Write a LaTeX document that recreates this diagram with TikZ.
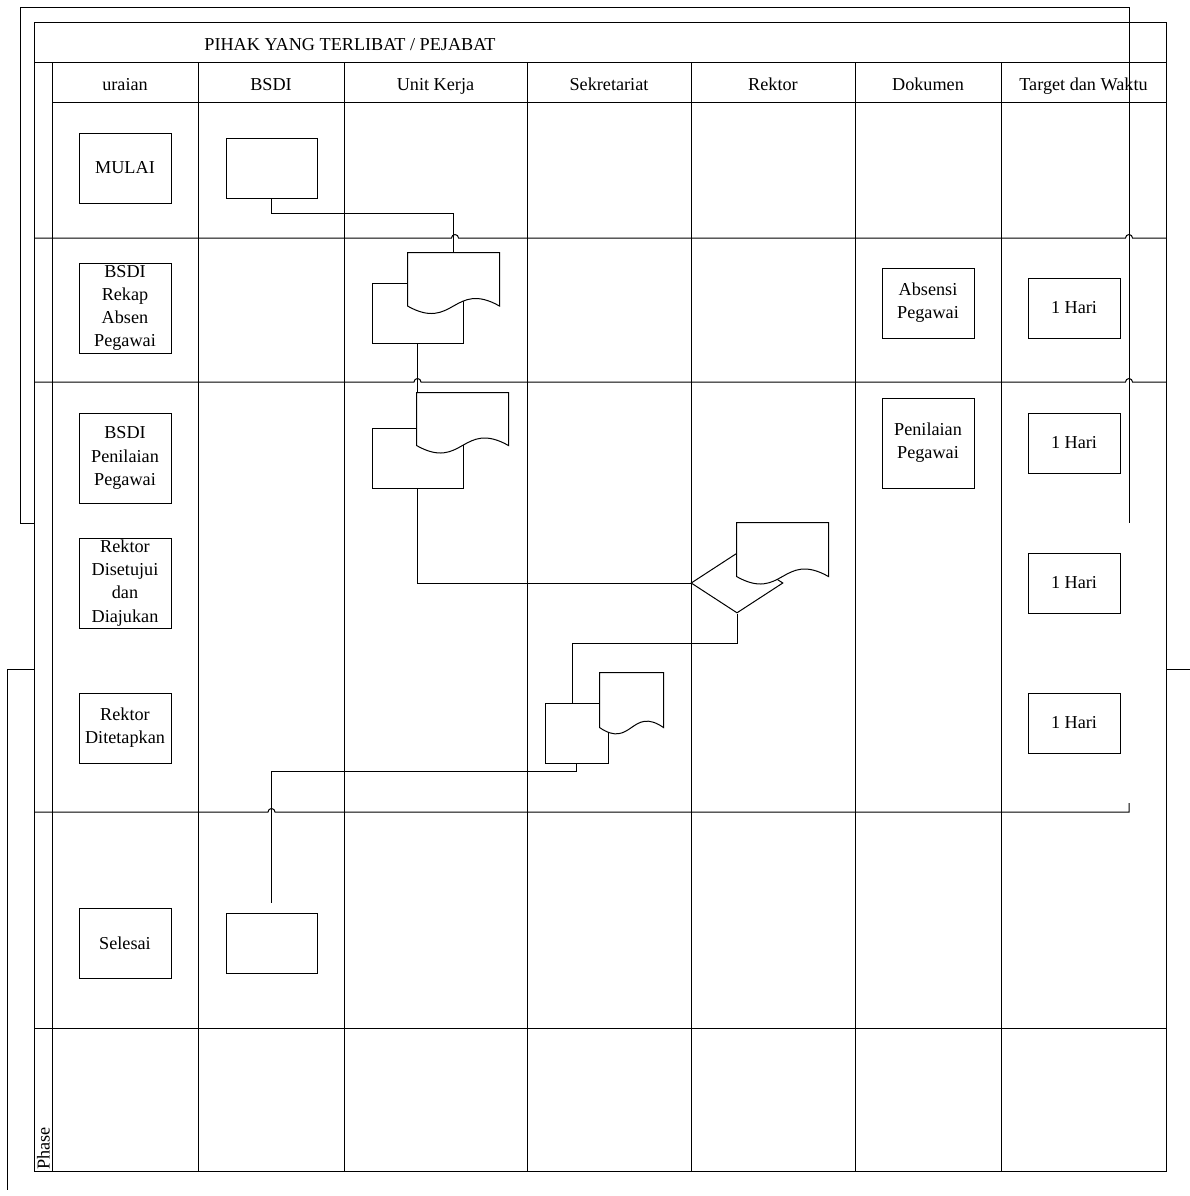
\documentclass[tikz,border=0pt]{standalone}
\usepackage{fontspec}
\setmainfont{Liberation Serif}
\usetikzlibrary{calc,shapes.geometric}
\newcommand{\docshape}[2]{%
  \draw[fill=white] (#1.south west) -- (#1.north west) -- (#1.north east) -- (#1.south east)
    .. controls ($(#1.south)+(0,-#2)$) and ($(#1.south)+(0,#2)$) .. (#1.south west) -- cycle;}
\begin{document}
\begin{tikzpicture}[x=0.5pt,y=-0.5pt,line width=0.5pt,
  font=\fontsize{9.1}{11.6}\selectfont,
  box/.style={draw,rectangle,inner sep=0pt,align=center,minimum width=46pt},
  docbox/.style={rectangle,inner sep=0pt,minimum width=45.5pt},
  hdr/.style={inner sep=0pt,anchor=base},
  conn/.style={line width=0.5pt}]
\useasboundingbox (0,0) rectangle (1190,1196);
% stray container lines
\draw (34,523) -- (20,523) -- (20,7) -- (1129,7) -- (1129,523);
\draw (34,669) -- (7,669) -- (7,1190);
\draw (1166,669) -- (1190,669);
% table frame
\draw (34,22) rectangle (1166,1171);
\draw (34,62) -- (1166,62);
\draw (52,62) -- (52,1171);
\draw (52,102) -- (1166,102);
\foreach \x in {198,344,527,691,855,1001} \draw (\x,62) -- (\x,1171);
\draw (34,238) -- (451.5,238) arc[start angle=180,end angle=360,radius=3.5]
  -- (1125.5,238) arc[start angle=180,end angle=360,radius=3.5] -- (1166,238);
\draw (34,382) -- (414,382) arc[start angle=180,end angle=360,radius=3.5]
  -- (1125.5,382) arc[start angle=180,end angle=360,radius=3.5] -- (1166,382);
\draw (34,812) -- (268,812) arc[start angle=180,end angle=360,radius=3.5]
  -- (1129,812) -- (1129,803);
\draw (34,1028) -- (1166,1028);
% headers
\node[hdr] (title) at (350,50) {PIHAK YANG TERLIBAT / PEJABAT};
\node[hdr] (h1) at (125,90) {uraian};
\node[hdr] (h2) at (271,90) {BSDI};
\node[hdr] (h3) at (435.5,90) {Unit Kerja};
\node[hdr] (h4) at (609,90) {Sekretariat};
\node[hdr] (h5) at (773,90) {Rektor};
\node[hdr] (h6) at (928,90) {Dokumen};
\node[hdr] (h7) at (1083.5,90) {Target dan Waktu};
\node[rotate=90,anchor=west,inner sep=0.5pt] (phase) at (43.5,1171) {Phase};
% uraian boxes
\node[box,minimum height=35pt] (mulai) at (125,168) {MULAI};
\node[box,minimum height=45pt] (rekap) at (125,308) {BSDI\\Rekap\\Absen\\Pegawai};
\node[box,minimum height=45pt] (nilai) at (125,458) {BSDI\\Penilaian\\Pegawai};
\node[box,minimum height=45pt] (setuju) at (125,583) {Rektor\\Disetujui\\dan\\Diajukan};
\node[box,minimum height=35pt] (tetap) at (125,728) {Rektor\\Ditetapkan};
\node[box,minimum height=35pt] (selesai) at (125,943) {Selesai};
% BSDI boxes
\node[box,minimum width=45.5pt,minimum height=30pt] (b1) at (271.5,168) {};
\node[box,minimum width=45.5pt,minimum height=30pt] (b2) at (271.5,943) {};
% dokumen & target
\node[box,minimum height=35pt] (absensi) at (928,303) {Absensi\\Pegawai};
\node[box,minimum height=45pt] (penpeg) at (928,443) {Penilaian\\Pegawai};
\node[box,minimum height=30pt] (t1) at (1074,308) {1 Hari};
\node[box,minimum height=30pt] (t2) at (1074,443) {1 Hari};
\node[box,minimum height=30pt] (t3) at (1074,583) {1 Hari};
\node[box,minimum height=30pt] (t4) at (1074,723) {1 Hari};
% rects behind documents
\node[box,fill=white,minimum width=45.5pt,minimum height=30pt] (r1) at (417.5,313) {};
\node[box,fill=white,minimum width=45.5pt,minimum height=30pt] (r2) at (417.5,458) {};
\node[box,fill=white,minimum width=31.5pt,minimum height=30pt] (r4) at (576.5,733) {};
\node[draw,diamond,fill=white,inner sep=0pt,minimum width=46pt,minimum height=30pt] (dia) at (737,583) {};
% documents
\node[docbox,minimum height=26.25pt] (d1) at (453.5,279.25) {};
\node[docbox,minimum height=26pt] (d2) at (462.5,419) {};
\node[docbox,minimum height=26.5pt] (d3) at (782.5,549.5) {};
\node[docbox,minimum width=31.5pt,minimum height=27pt] (d4) at (631.5,700) {};
\docshape{d1}{26}
\docshape{d2}{26}
\docshape{d3}{26}
\docshape{d4}{22}
% connectors
\draw[conn] (b1.south) -- ++(0,15) -| (d1.north);
\draw[conn] (r1.south) -- (r1.south |- d2.north);
\draw[conn] (r2.south) |- (dia.west);
\draw[conn] (dia.south) -- ++(0,30) -| ($(r4.north)+(-4.5,0)$);
\draw[conn] (r4.south) -- ++(0,8) -| ($(b2.north)+(0,-10)$);
\end{tikzpicture}
\end{document}
